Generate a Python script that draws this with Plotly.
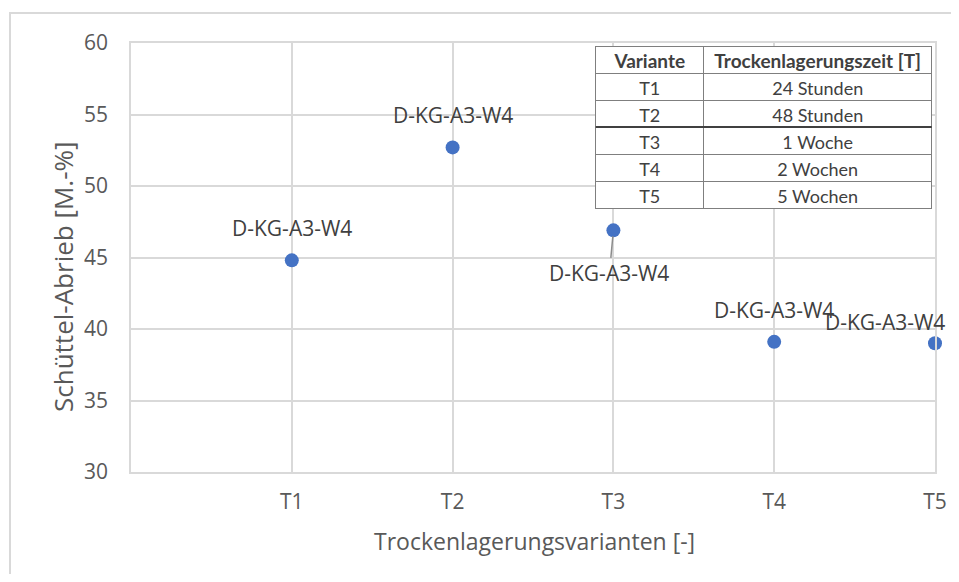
import plotly.graph_objects as go

# Data
variants = ["T1", "T2", "T3", "T4", "T5"]
x_pos = [1, 2, 3, 4, 5]
abrieb = [44.8, 52.7, 46.9, 39.1, 39.0]
point_labels = ["D-KG-A3-W4"] * 5
y_ticks = [30, 35, 40, 45, 50, 55, 60]

table_header = ["Variante", "Trockenlagerungszeit [T]"]
table_variants = ["T1", "T2", "T3", "T4", "T5"]
table_times = ["24 Stunden", "48 Stunden", "1 Woche", "2 Wochen", "5 Wochen"]

FONT = "Open Sans"
TXT = "#595959"
LAB = "#404040"
GRID = "#d9d9d9"

fig = go.Figure()

fig.add_trace(go.Scatter(
    x=x_pos, y=abrieb, mode="markers",
    marker=dict(color="#4472C4", size=14),
    showlegend=False, hoverinfo="skip", cliponaxis=False,
))

# data labels (offsets in pixels)
for i, (xi, yi, lab) in enumerate(zip(x_pos, abrieb, point_labels)):
    if i == 2:
        fig.add_annotation(x=xi, y=yi, xref="x", yref="y", text=lab,
                           showarrow=True, arrowhead=0, arrowwidth=1.5,
                           arrowcolor="#8c8c8c", ax=-4, ay=43, standoff=6,
                           font=dict(family=FONT, size=21, color=LAB))
    elif i == 4:
        fig.add_annotation(x=xi, y=yi, xref="x", yref="y", text=lab,
                           showarrow=False, xanchor="right", xshift=12, yshift=21,
                           font=dict(family=FONT, size=21, color=LAB))
    else:
        fig.add_annotation(x=xi, y=yi, xref="x", yref="y", text=lab,
                           showarrow=False, yshift=32,
                           font=dict(family=FONT, size=21, color=LAB))

fig.add_trace(go.Table(
    domain=dict(x=[0.578, 0.996], y=[0.45, 0.993]),
    columnwidth=[108, 228],
    header=dict(values=table_header, height=27, fill_color="white",
                line=dict(color="#7f7f7f", width=1), align="center",
                font=dict(family="Lato", size=19, color=LAB, weight="bold")),
    cells=dict(values=[table_variants, table_times], height=27,
               fill_color="white", line=dict(color="#7f7f7f", width=1),
               align="center",
               font=dict(family="Lato", size=18, color=LAB)),
))

fig.update_xaxes(range=[0, 5], tickvals=x_pos, ticktext=variants,
                 showgrid=True, gridcolor=GRID, gridwidth=1.5,
                 showline=True, linecolor=GRID, linewidth=1.5, mirror=True,
                 zeroline=False, ticks="", ticklabelstandoff=10,
                 tickfont=dict(family=FONT, size=21, color=TXT))
fig.update_yaxes(range=[30, 60], tickvals=y_ticks,
                 showgrid=True, gridcolor=GRID, gridwidth=1.5,
                 showline=True, linecolor=GRID, linewidth=1.5, mirror=True,
                 zeroline=False, ticks="", ticklabelstandoff=17,
                 tickfont=dict(family=FONT, size=21, color=TXT))

# axis titles
fig.add_annotation(text="Trockenlagerungsvarianten [-]", xref="paper", yref="paper",
                   x=403 / 804, y=-69 / 429, showarrow=False,
                   xanchor="center", yanchor="middle",
                   font=dict(family=FONT, size=23, color=TXT))
fig.add_annotation(text="Schüttel-Abrieb [M.-%]", xref="paper", yref="paper",
                   x=-68 / 804, y=195 / 429, showarrow=False, textangle=-90,
                   xanchor="center", yanchor="middle",
                   font=dict(family=FONT, size=26, color=TXT))

# thicker separator line in the table between T2 and T3
fig.add_shape(type="line", xref="paper", yref="paper",
              x0=0.578, x1=0.996, y0=345 / 429, y1=345 / 429,
              line=dict(color="#404040", width=2), layer="above")

# outer chart border
fig.add_shape(type="rect", xref="paper", yref="paper",
              x0=-121 / 804, x1=1.3, y0=-0.5, y1=1 + 30 / 429,
              line=dict(color="#d9d9d9", width=2), layer="below")

fig.update_layout(
    width=951, height=566,
    margin=dict(l=123, r=24, t=35, b=102),
    paper_bgcolor="white", plot_bgcolor="white",
    font=dict(family=FONT, color=TXT),
)

fig.write_html("out.html")
